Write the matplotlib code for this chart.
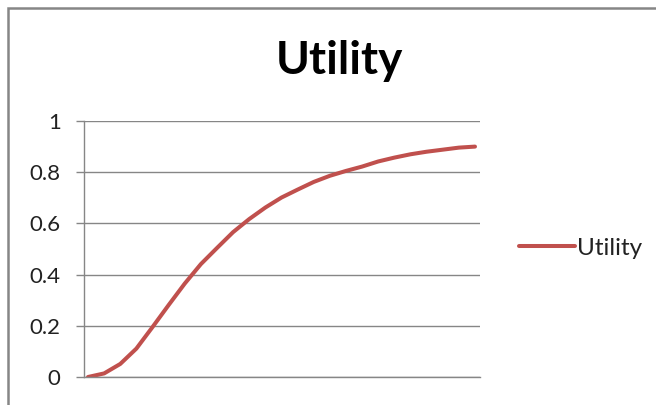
import matplotlib
matplotlib.use("Agg")
import matplotlib.pyplot as plt
from matplotlib.patches import Rectangle

# values (25 evenly spaced categories)
steps = list(range(25))
utility = [0.0, 0.014, 0.051, 0.111, 0.195, 0.281, 0.365, 0.441, 0.504,
           0.566, 0.617, 0.662, 0.701, 0.732, 0.762, 0.786, 0.805, 0.822,
           0.842, 0.857, 0.870, 0.880, 0.888, 0.896, 0.900]
y_ticks = [0, 0.2, 0.4, 0.6, 0.8, 1]
y_labels = ["0", "0.2", "0.4", "0.6", "0.8", "1"]

W, H = 656, 405
grid_col = "#868686"
line_col = "#C0504D"
plt.rcParams["font.family"] = ["Lato", "DejaVu Sans"]

fig = plt.figure(figsize=(W / 100, H / 100), dpi=100)

# chart area border (runs off the right and bottom edges)
fig.patches.append(Rectangle((8 / W, -0.2), 1.0, 1.2 - 8 / H, transform=fig.transFigure,
                             fill=False, edgecolor=grid_col, lw=1.8))

ax = fig.add_axes([84 / W, 1 - 377 / H, (480 - 84) / W, (377 - 121) / H])
ax.plot(steps, utility, color=line_col, lw=2.9, solid_capstyle="round", label="Utility")

n = len(steps) - 1
ax.set_xlim(-n * 4 / 387, n * (1 + 5 / 387))
ax.set_ylim(0, 1)
ax.set_yticks(y_ticks)
ax.set_yticklabels(y_labels)
ax.set_xticks([])
ax.yaxis.grid(True, color=grid_col, lw=1)
ax.set_axisbelow(True)
ax.tick_params(axis="y", length=5.8, width=1, color=grid_col, pad=11,
               labelsize=16, labelcolor="#222222")
for s in ["top", "right"]:
    ax.spines[s].set_visible(False)
for s in ["left", "bottom"]:
    ax.spines[s].set_color(grid_col)
    ax.spines[s].set_linewidth(1)

fig.text(339 / W, 1 - 74 / H, "Utility", ha="center", va="baseline",
         fontsize=33, fontweight="bold", color="black")

ax.legend(loc="center left", bbox_to_anchor=(519 / W, 1 - 248 / H),
          bbox_transform=fig.transFigure, frameon=False, borderpad=0,
          borderaxespad=0, handlelength=2.3, handletextpad=0.08,
          prop={"size": 17.5}, labelcolor="#222222")

fig.savefig("out.png", dpi=100)
